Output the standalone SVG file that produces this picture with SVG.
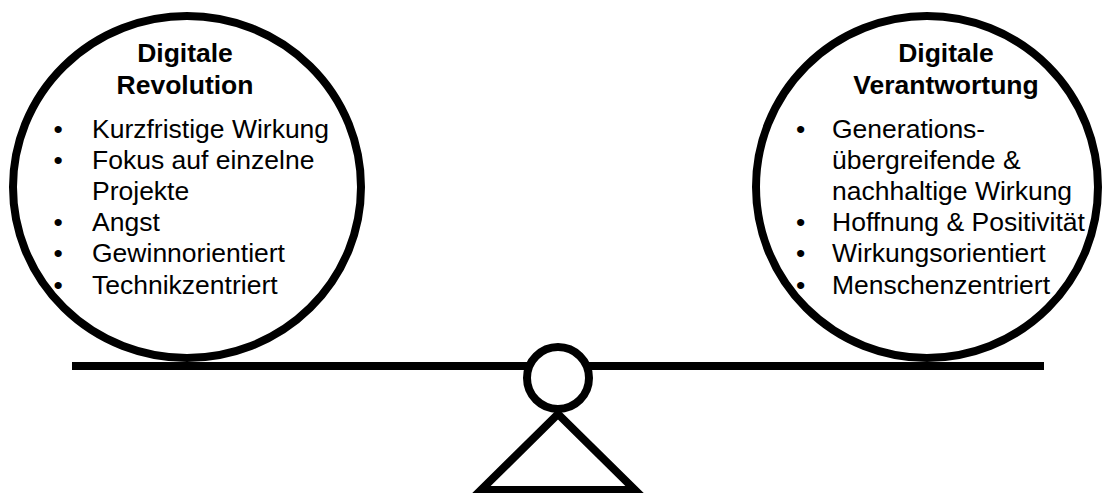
<svg xmlns="http://www.w3.org/2000/svg" width="1103" height="493" viewBox="0 0 1103 493">
<style>
.ring{fill:#fff;stroke:#000;stroke-width:8}
.t{font-family:"Liberation Sans",Arial,Helvetica,sans-serif;font-size:26.5px;fill:#000}
.b{font-weight:bold;text-anchor:middle}
.line{stroke:#000;stroke-width:8;fill:none}
</style>
<rect width="1103" height="493" fill="#fff"/>
<g id="connectors">
<line class="line" x1="72" y1="366" x2="1044" y2="366"/>
<polygon class="line" points="558,414 481,490 635,490" stroke-linejoin="miter"/>
</g>
<g id="pivot">
<circle class="ring" cx="558" cy="378" r="31"/>
</g>
<g id="node-revolution">
<ellipse class="ring" cx="187" cy="187" rx="174" ry="171"/>
<text class="t b" x="185" y="62">Digitale</text>
<text class="t b" x="185" y="94">Revolution</text>
<text class="t" x="53.5" y="138">•</text><text class="t" x="92" y="138">Kurzfristige Wirkung</text>
<text class="t" x="53.5" y="169">•</text><text class="t" x="92" y="169">Fokus auf einzelne</text>
<text class="t" x="92" y="200">Projekte</text>
<text class="t" x="53.5" y="231">•</text><text class="t" x="92" y="231">Angst</text>
<text class="t" x="53.5" y="262">•</text><text class="t" x="92" y="262">Gewinnorientiert</text>
<text class="t" x="53.5" y="294">•</text><text class="t" x="92" y="294">Technikzentriert</text>
</g>
<g id="node-verantwortung">
<circle class="ring" cx="927" cy="187" r="171"/>
<text class="t b" x="946" y="62">Digitale</text>
<text class="t b" x="946" y="94">Verantwortung</text>
<text class="t" x="796" y="138">•</text><text class="t" x="832" y="138">Generations-</text>
<text class="t" x="832" y="169">übergreifende &amp;</text>
<text class="t" x="832" y="200">nachhaltige Wirkung</text>
<text class="t" x="796" y="231">•</text><text class="t" x="832" y="231">Hoffnung &amp; Positivität</text>
<text class="t" x="796" y="262">•</text><text class="t" x="832" y="262">Wirkungsorientiert</text>
<text class="t" x="796" y="294">•</text><text class="t" x="832" y="294">Menschenzentriert</text>
</g>
</svg>
